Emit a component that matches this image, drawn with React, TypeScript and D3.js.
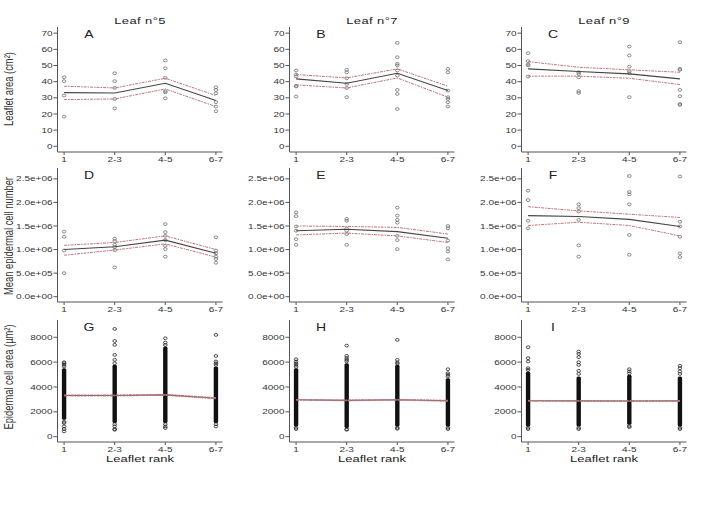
import React from 'react';
import * as d3 from 'd3';

// categories
const ranks = ['1', '2-3', '4-5', '6-7'];
const leafTitles = ['Leaf n°5', 'Leaf n°7', 'Leaf n°9'];
const panelLetters = [['A', 'B', 'C'], ['D', 'E', 'F'], ['G', 'H', 'I']];
const rowLabels = ['Leaflet area (cm²)', 'Mean epidermal cell number', 'Epidermal cell area (µm²)'];

// row 1 : leaflet area (cm2), raw points per rank
const areaPts5 = [[42.7, 40.3, 31.4, 18.4], [45.2, 40.3, 36.1, 29.3, 23.5], [53.1, 48.3, 42.3, 34.1, 33.4, 29.7], [36.5, 34.9, 32.8, 27.3, 24.6, 21.7]];
const areaPts7 = [[46.9, 44.4, 43.2, 37.4, 37, 30.8], [47.3, 45.8, 42.1, 38.6, 36.1, 30.4], [64, 55.1, 51, 50, 46.9, 43.8, 34.9, 32.4, 23.1], [47.9, 45.8, 34.5, 30.4, 29.3, 27.3, 24.6]];
const areaPts9 = [[57.6, 52.7, 50.6, 50, 43.2], [45.8, 44.8, 42.7, 34.1, 33], [61.7, 56.2, 49.3, 46.5, 45.2, 30.4], [64.4, 47.9, 47.3, 34.9, 31, 26.2, 25.6]];
const areaMean = [[33.2, 33, 39, 28.3], [41.7, 39, 45.2, 34.5], [47.9, 46.3, 44.8, 41.7]];
const areaUpper = [[37.2, 36.1, 42.1, 31.4], [44.4, 42.3, 47.9, 37.2], [52.4, 48.9, 47.3, 45.8]];
const areaLower = [[28.9, 29.3, 35.5, 24.6], [38, 36.1, 42.3, 30.4], [43.4, 43.4, 42.1, 38.2]];

// row 2 : mean epidermal cell number
const cellNbPts5 = [[1.38e6, 1.27e6, 0.98e6, 0.5e6], [1.23e6, 1.18e6, 1.1e6, 1.05e6, 0.99e6, 0.62e6], [1.54e6, 1.37e6, 1.29e6, 1.2e6, 1.08e6, 1.01e6, 0.85e6], [1.26e6, 0.98e6, 0.92e6, 0.85e6, 0.8e6, 0.72e6]];
const cellNbPts7 = [[1.79e6, 1.71e6, 1.49e6, 1.4e6, 1.22e6, 1.1e6], [1.65e6, 1.61e6, 1.45e6, 1.4e6, 1.33e6, 1.1e6], [1.89e6, 1.72e6, 1.63e6, 1.57e6, 1.29e6, 1.2e6, 1.01e6], [1.5e6, 1.45e6, 1.19e6, 1.03e6, 0.96e6, 0.79e6]];
const cellNbPts9 = [[2.25e6, 2.05e6, 1.61e6, 1.45e6], [1.96e6, 1.88e6, 1.81e6, 1.63e6, 1.09e6, 0.85e6], [2.56e6, 2.22e6, 2.17e6, 1.96e6, 1.31e6, 0.89e6], [2.55e6, 1.59e6, 1.49e6, 1.27e6, 0.92e6, 0.84e6]];
const cellNbMean = [[1.0e6, 1.06e6, 1.2e6, 0.92e6], [1.4e6, 1.43e6, 1.38e6, 1.24e6], [1.72e6, 1.7e6, 1.64e6, 1.49e6]];
const cellNbUpper = [[1.09e6, 1.15e6, 1.29e6, 1.0e6], [1.5e6, 1.49e6, 1.47e6, 1.33e6], [1.91e6, 1.82e6, 1.75e6, 1.68e6]];
const cellNbLower = [[0.88e6, 0.99e6, 1.12e6, 0.84e6], [1.31e6, 1.35e6, 1.29e6, 1.15e6], [1.51e6, 1.58e6, 1.51e6, 1.29e6]];

// row 3 : epidermal cell area (um2) - thousands of cells, so dense core as [low, high] plus sparse tails
const cellAreaCore5 = [[1365, 5510], [1100, 5780], [1100, 7250], [1100, 5650]];
const cellAreaCore7 = [[830, 5510], [700, 5910], [830, 5780], [830, 4710]];
const cellAreaCore9 = [[830, 5250], [830, 4840], [960, 4980], [830, 4840]];
const cellAreaTail5 = [[5990, 5910, 5780, 5650, 1200, 1100, 830, 615, 430], [8670, 7700, 7390, 6580, 6180, 5910, 1000, 830, 615, 560], [7920, 7570, 7380, 1000, 830, 700], [8190, 6500, 6050, 5910, 5780, 1000, 830]];
const cellAreaTail7 = [[6230, 6050, 5910, 5780, 5620, 720, 615], [7330, 6500, 6320, 6180, 6050, 600, 560], [7790, 6180, 5970, 5880, 720, 640], [5430, 5110, 4980, 4850, 720, 615]];
const cellAreaTail9 = [[7200, 6320, 6050, 5510, 5380, 720, 615], [6850, 6660, 6400, 5990, 5780, 5300, 5050, 720, 615], [5430, 5250, 5100, 860, 775], [5700, 5510, 5250, 5050, 720, 615]];
const cellAreaMean = [[3320, 3320, 3370, 3100], [2970, 2920, 2970, 2890], [2890, 2880, 2870, 2880]];
const cellAreaUpper = [[3360, 3360, 3410, 3140], [3000, 2950, 3000, 2930], [2920, 2910, 2900, 2910]];
const cellAreaLower = [[3280, 3280, 3330, 3060], [2940, 2890, 2940, 2850], [2860, 2850, 2840, 2850]];

const areaTicks = [0, 10, 20, 30, 40, 50, 60, 70];
const cellNbTicks = [0, 5e5, 1e6, 1.5e6, 2e6, 2.5e6];
const cellAreaTicks = [0, 2000, 4000, 6000, 8000];

const sciFmt = (d: number) => {
  const [m, e] = d.toExponential(1).split('e');
  return `${m}e${e[0]}${e.slice(1).padStart(2, '0')}`;
};

const SQ = 0.72; // the figure is vertically squeezed
const FONT = 'Liberation Sans, Arial, Helvetica, sans-serif';
const colLeft = [57.5, 289.5, 521.5];
const panelW = 165;

const rows = [
  { top: 27, bottom: 152, domain: [-3.5, 73.8], ticks: areaTicks, fmt: (d: number) => String(d), pts: [areaPts5, areaPts7, areaPts9], mean: areaMean, up: areaUpper, lo: areaLower },
  { top: 168, bottom: 302, domain: [-0.112e6, 2.73e6], ticks: cellNbTicks, fmt: sciFmt, pts: [cellNbPts5, cellNbPts7, cellNbPts9], mean: cellNbMean, up: cellNbUpper, lo: cellNbLower },
  { top: 320, bottom: 442, domain: [-425, 9390], ticks: cellAreaTicks, fmt: (d: number) => String(d), pts: [cellAreaTail5, cellAreaTail7, cellAreaTail9], core: [cellAreaCore5, cellAreaCore7, cellAreaCore9], mean: cellAreaMean, up: cellAreaUpper, lo: cellAreaLower },
];

function Txt({ x, y, size, anchor = 'middle', rotate = false, children, fill = '#333', spacing = 0 }: any) {
  return (
    <text
      transform={`translate(${x},${y}) scale(1,${SQ})${rotate ? ' rotate(-90)' : ''}`}
      fontSize={size}
      fontFamily={FONT}
      textAnchor={anchor}
      dy="0.35em"
      fill={fill}
      letterSpacing={spacing}
    >
      {children}
    </text>
  );
}

function Panel({ row, col }: { row: number; col: number }) {
  const r = rows[row];
  const left = colLeft[col];
  const x = d3.scaleLinear().domain([0.87, 4.13]).range([left, left + panelW]);
  const y = d3.scaleLinear().domain(r.domain).range([r.bottom, r.top]);
  const line = d3.line<number>().x((_, i) => x(i + 1)).y((d) => y(d));
  const dense = row === 2;
  const ptColor = dense ? '#222' : '#6f6f6f';

  return (
    <g>
      {/* axes */}
      <line x1={left} x2={left} y1={r.top} y2={r.bottom} stroke="#555" strokeWidth={1} />
      <line x1={left} x2={left + panelW} y1={r.bottom} y2={r.bottom} stroke="#555" strokeWidth={1} />
      {r.ticks.map((t) => (
        <g key={t}>
          <line x1={left - 4} x2={left} y1={y(t)} y2={y(t)} stroke="#555" />
          <Txt x={left - 5} y={y(t)} size={10} anchor="end">{r.fmt(t)}</Txt>
        </g>
      ))}
      {ranks.map((k, i) => (
        <g key={k}>
          <line x1={x(i + 1)} x2={x(i + 1)} y1={r.bottom} y2={r.bottom + 3} stroke="#555" />
          <Txt x={x(i + 1)} y={r.bottom + 7} size={10}>{k}</Txt>
        </g>
      ))}
      {/* dense cores */}
      {r.core && r.core[col].map((c: number[], i: number) => (
        <rect key={i} x={x(i + 1) - 2.2} width={4.4} rx={1.5} y={y(c[1])} height={y(c[0]) - y(c[1])} fill="#111" />
      ))}
      {/* points */}
      {r.pts[col].map((vals: number[], i: number) =>
        vals.map((v, j) => (
          <ellipse key={`${i}-${j}`} cx={x(i + 1)} cy={y(v)} rx={1.8} ry={1.4} fill="none" stroke={ptColor} strokeWidth={0.8} />
        ))
      )}
      {/* fitted mean and confidence band */}
      <path d={line(r.mean[col]) || ''} fill="none" stroke={dense ? '#666' : '#444'} strokeWidth={1.1} />
      {[r.up[col], r.lo[col]].map((b, k) => (
        <g key={k}>
          <path d={line(b) || ''} fill="none" stroke="#d86a70" strokeWidth={1} strokeDasharray="3,3.5" />
          <path d={line(b) || ''} fill="none" stroke="#8a8a8a" strokeWidth={1} strokeDasharray="1.5,5" strokeDashoffset={-4} />
        </g>
      ))}
      <Txt x={left + 31.5} y={r.top + 7} size={14} fill="#222">{panelLetters[row][col]}</Txt>
      {row === 0 && <Txt x={left + 82.5} y={20.7} size={13} fill="#222" spacing={0.4}>{leafTitles[col]}</Txt>}
      {row === 2 && <Txt x={left + 82.5} y={458.3} size={13} fill="#222">Leaflet rank</Txt>}
    </g>
  );
}

export default function App() {
  return (
    <svg width={709} height={514} style={{ position: 'absolute', left: 0, top: 0, background: '#fff' }}>
      <rect width={709} height={514} fill="#fff" />
      {[0, 1, 2].map((row) => [0, 1, 2].map((col) => <Panel key={`${row}-${col}`} row={row} col={col} />))}
      <Txt x={8.5} y={89} size={13} rotate>{rowLabels[0]}</Txt>
      <Txt x={8.5} y={236} size={13} rotate>{rowLabels[1]}</Txt>
      <Txt x={8.5} y={377} size={13} rotate>{rowLabels[2]}</Txt>
    </svg>
  );
}
